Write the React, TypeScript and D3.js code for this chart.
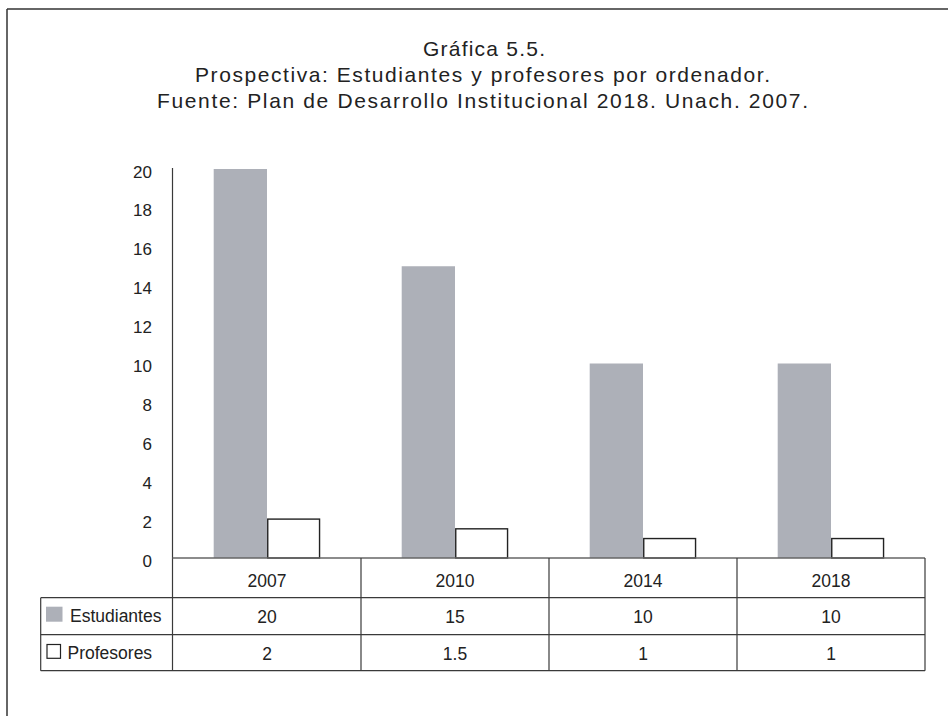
import React from "react";
import * as d3 from "d3";

const titleLines = [
  "Gráfica 5.5.",
  "Prospectiva: Estudiantes y profesores por ordenador.",
  "Fuente: Plan de Desarrollo Institucional 2018. Unach. 2007.",
];
const categories = ["2007", "2010", "2014", "2018"];
const seriesNames = ["Estudiantes", "Profesores"];
const estudiantes = [20, 15, 10, 10];
const profesores = [2, 1.5, 1, 1];

const W = 948;
const H = 716;
const FONT = "'Liberation Sans', Arial, Helvetica, sans-serif";
const TEXT = "#222";
const LINE = "#3a3a3a";
const GREY = "#adb0b8";

export default function App() {
  const seriesValues = [estudiantes, profesores];
  const x0 = d3.scaleBand<string>().domain(categories).range([173, 925]).padding(0);
  const bw = x0.bandwidth();
  const pad = 40.7;
  const x1 = d3.scaleBand<string>().domain(seriesNames).range([pad, bw - pad]).padding(0);
  const y = d3.scaleLinear().domain([0, 20]).range([558, 169]);
  const ticks = y.ticks(10);

  const rowLines = [558, 597.7, 634.7, 670.7];
  const tableLeft = 40.7;
  const tableRight = 925;

  const titleLayout = [
    { x: 423, len: 122, y: 56 },
    { x: 195, len: 575, y: 82 },
    { x: 157, len: 651, y: 108 },
  ];

  return (
    <svg
      width={W}
      height={H}
      style={{ position: "absolute", left: 0, top: 0, background: "#fff" }}
      fontFamily={FONT}
    >
      <rect x={0} y={0} width={W} height={H} fill="#fff" />
      {/* outer frame */}
      <line x1={7} y1={9} x2={W} y2={9} stroke="#333" strokeWidth={1.5} />
      <line x1={7} y1={9} x2={7} y2={H} stroke="#333" strokeWidth={1.5} />

      {/* title */}
      {titleLines.map((t, i) => (
        <text
          key={i}
          x={titleLayout[i].x}
          y={titleLayout[i].y}
          fontSize={21}
          fill={TEXT}
          textLength={titleLayout[i].len}
          lengthAdjust="spacing"
        >
          {t}
        </text>
      ))}

      {/* y tick labels */}
      {ticks.map((t) => (
        <text key={t} x={152} y={y(t) + 8.5} fontSize={17} fill={TEXT} textAnchor="end">
          {t}
        </text>
      ))}

      {/* bars */}
      {categories.map((c, ci) => (
        <g key={c} transform={`translate(${x0(c)},0)`}>
          <rect
            x={x1(seriesNames[0])}
            y={y(estudiantes[ci])}
            width={x1.bandwidth()}
            height={y(0) - y(estudiantes[ci])}
            fill={GREY}
          />
          <rect
            x={(x1(seriesNames[1]) as number) + 0.75}
            y={y(profesores[ci])}
            width={x1.bandwidth() - 1.5}
            height={y(0) - y(profesores[ci])}
            fill="#fff"
            stroke="#222"
            strokeWidth={1.4}
          />
        </g>
      ))}

      {/* y axis line */}
      <line x1={172.5} y1={168} x2={172.5} y2={671} stroke={LINE} strokeWidth={1.2} />
      {/* baseline */}
      <line x1={172.5} y1={558} x2={tableRight} y2={558} stroke="#666" strokeWidth={1.3} />

      {/* table lines */}
      {rowLines.slice(1).map((ry, i) => (
        <line key={i} x1={tableLeft} y1={ry} x2={tableRight} y2={ry} stroke={LINE} strokeWidth={1.2} />
      ))}
      <line x1={tableLeft} y1={rowLines[1]} x2={tableLeft} y2={rowLines[3]} stroke={LINE} strokeWidth={1.2} />
      {categories.map((c) => {
        const xr = (x0(c) as number) + bw;
        return (
          <line key={c} x1={xr} y1={558} x2={xr} y2={rowLines[3]} stroke={LINE} strokeWidth={1.2} />
        );
      })}

      {/* header row */}
      {categories.map((c) => (
        <text
          key={c}
          x={(x0(c) as number) + bw / 2}
          y={587}
          fontSize={17.5}
          fill={TEXT}
          textAnchor="middle"
        >
          {c}
        </text>
      ))}

      {/* data rows */}
      {seriesValues.map((vals, si) => {
        const top = rowLines[si + 1];
        const bot = rowLines[si + 2];
        const base = (top + bot) / 2 + 7;
        return (
          <g key={si}>
            {vals.map((v, ci) => (
              <text
                key={ci}
                x={(x0(categories[ci]) as number) + bw / 2}
                y={base}
                fontSize={17.5}
                fill={TEXT}
                textAnchor="middle"
              >
                {String(v)}
              </text>
            ))}
          </g>
        );
      })}

      {/* legend column */}
      <rect x={46} y={606.7} width={16.5} height={15} fill={GREY} />
      <text x={70} y={621.7} fontSize={17.5} fill={TEXT}>
        {seriesNames[0]}
      </text>
      <rect x={47} y={644.5} width={13.5} height={13.8} fill="#fff" stroke="#222" strokeWidth={1.2} />
      <text x={67.5} y={658.5} fontSize={17.5} fill={TEXT}>
        {seriesNames[1]}
      </text>
    </svg>
  );
}
